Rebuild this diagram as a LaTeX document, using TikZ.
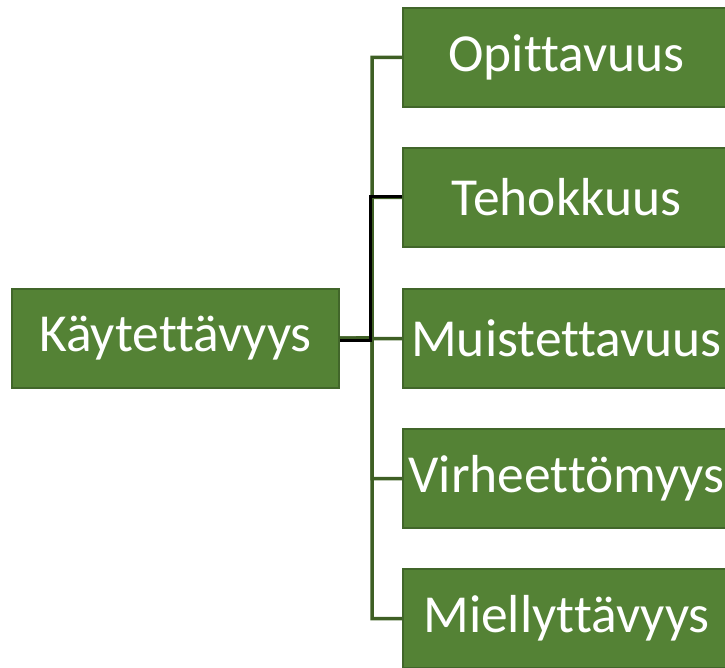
\documentclass[tikz,border=0pt]{standalone}
\usepackage{fontspec}
\setmainfont[Ligatures=NoCommon]{Carlito}
\definecolor{boxfill}{HTML}{548235}
\definecolor{boxline}{HTML}{41662A}
\definecolor{linkgreen}{HTML}{3E5F24}
\begin{document}
\begin{tikzpicture}[x=1pt,y=-1pt,
  item/.style={draw=boxline,line width=2pt,fill=boxfill,text=white,
    minimum width=327pt,minimum height=99pt,inner sep=0pt,
    font=\fontsize{53.5}{60}\selectfont},
  link/.style={draw=linkgreen,line width=3.5pt},
  blacklink/.style={draw=black,line width=3pt}]
\useasboundingbox (0,0) rectangle (725,668);
\clip (0,0) rectangle (725,668);
\node[item] (root) at (175.5,338.5) {Käytettävyys};
\node[item] (a) at (566.5,57.5) {Opittavuus};
\node[item] (b) at (566.5,197.5) {Tehokkuus};
\node[item] (c) at (566.5,338.5) {Muistettavuus};
\node[item] (d) at (566.5,478.5) {Virheettömyys};
\node[item] (e) at (566.5,618.5) {Miellyttävyys};
\coordinate (j) at (372,338);
\foreach \t in {a,b,c,d,e}{
  \draw[link] (root.east) -- (j) |- (\t.west);
}
% the Tehokkuus branch is drawn in black, slightly offset from the green trunk
\draw[blacklink] ([yshift=-2pt]root.east) -- ++(30,0) |- ([yshift=0.5pt]b.west);
\end{tikzpicture}
\end{document}
